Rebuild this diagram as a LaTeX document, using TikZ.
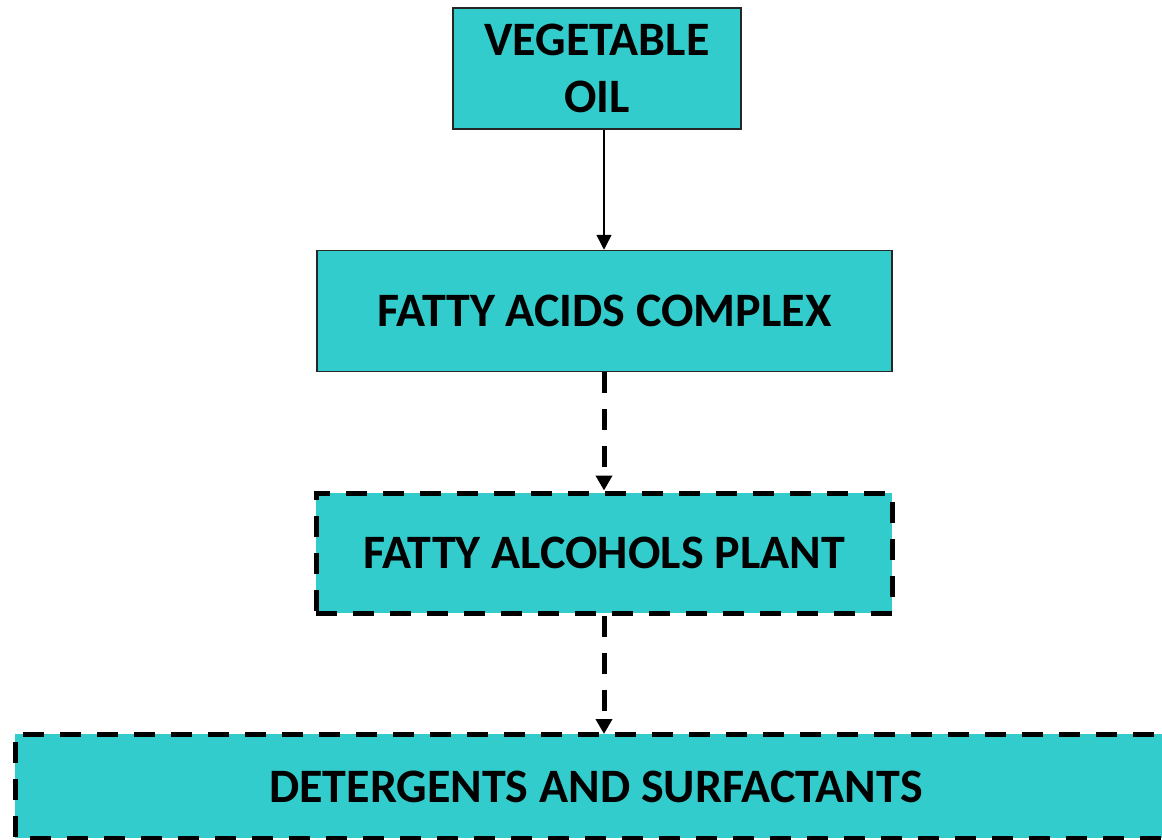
\documentclass[tikz,border=0pt]{standalone}
\usepackage{fontspec}
\setmainfont{Carlito}
\usetikzlibrary{arrows.meta}
\definecolor{teal1}{HTML}{33CCCC}
\tikzset{
  boxtext/.style={font=\fontsize{48}{57}\selectfont\bfseries, align=center},
  solidbox/.style={draw=black!85, line width=1.5pt, fill=teal1, inner sep=0pt, boxtext},
  dashline/.style={draw=black, line width=5pt, dash pattern=on 21pt off 16pt},
  dashbox/.style={dashline, fill=teal1, inner sep=0pt, boxtext},
  thinarrow/.style={line width=1.5pt, -{Triangle[length=15pt,width=15pt]}},
  dasharrow/.style={dashline, -{Triangle[length=15pt,width=16pt]}}
}
\begin{document}
\begin{tikzpicture}[x=1pt,y=-1pt]
\useasboundingbox (0,0) rectangle (1162,839);
\clip (0,0) rectangle (1162,839);
\node[solidbox, minimum width=288pt, minimum height=121pt] (oil) at (597,68.5) {VEGETABLE\\OIL};
\node[solidbox, minimum width=575pt, minimum height=121pt] (acids) at (604.5,311) {FATTY ACIDS COMPLEX};
\node[dashbox, minimum width=576pt, minimum height=120pt] (alc) at (604,553) {FATTY ALCOHOLS PLANT};
\node[fill=teal1, inner sep=0pt, outer sep=0pt, anchor=north west, minimum width=1250pt, minimum height=104pt] (det) at (15,734) {};
\draw[dashline] (det.north east) -- (det.north west) -- (det.south west) -- (det.south east);
\node[boxtext, inner sep=0pt] (dettext) at (596,787) {DETERGENTS AND SURFACTANTS};
\draw[thinarrow] (oil.south -| 604,0) -- (acids.north -| 604,0);
\draw[dasharrow] (acids.south -| 604,0) -- (alc.north -| 604,0);
\draw[dasharrow] (alc.south -| 604,0) -- (det.north -| 604,0);
\end{tikzpicture}
\end{document}
